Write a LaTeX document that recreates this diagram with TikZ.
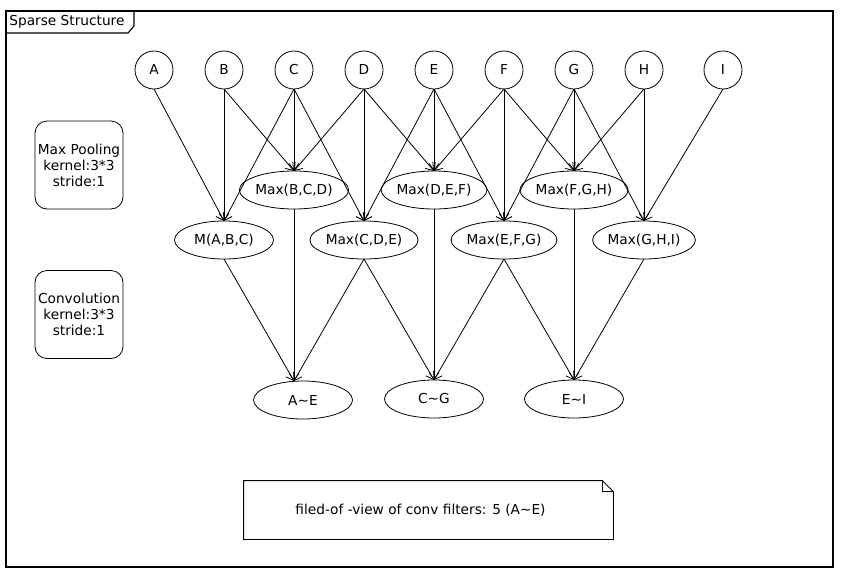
\documentclass[tikz,border=0pt]{standalone}
\usepackage{fontspec}
\setmainfont{DejaVu Sans}
\usetikzlibrary{arrows.meta, positioning, shapes.geometric}

\begin{document}
\begin{tikzpicture}[
    x=1pt, y=-1pt,
    node distance=32pt,
inp/.style = {draw, circle, minimum size=38pt, inner sep=0pt, outer sep=0pt},
mx/.style  = {draw, ellipse, minimum width=99pt, minimum height=38pt, inner sep=0pt, outer sep=0pt},
info/.style = {draw, rounded corners=12pt, minimum width=88pt, minimum height=88pt,
               inner sep=0pt, align=center},
arr/.style = {-{Straight Barb[length=7pt,width=10pt]}},
     line width=0.8pt,
     font = \fontsize{13.7}{16}\selectfont
                        ]
\useasboundingbox (0,0) rectangle (841,579);
% frame
\draw[line width=1.1pt] (6,11) rectangle (833,567);
\draw[line width=1.1pt] (6,33) -- (128,33) -- (134,26) -- (134,11);
\node (title) [anchor=west, inner sep=0pt] at (9,22) {Sparse Structure};
% inputs
\node (a) [inp] at (154,70) {A};
\node (b) [inp,right=of a] {B};
\node (c) [inp,right=of b] {C};
\node (d) [inp,right=of c] {D};
\node (e) [inp,right=of d] {E};
\node (f) [inp,right=of e] {F};
\node (g) [inp,right=of f] {G};
\node (h) [inp,right=of g] {H};
\node (i) [inp,right=41pt of h] {I};
% max pooling
\node (mbcd) [mx,below=82pt of c] {Max(B,C,D)};
\node (mdef) [mx,below=82pt of e] {Max(D,E,F)};
\node (mfgh) [mx,below=82pt of g] {Max(F,G,H)};
\node (mabc) [mx,below=132pt of b] {M(A,B,C)};
\node (mcde) [mx,below=132pt of d] {Max(C,D,E)};
\node (mefg) [mx,below=132pt of f] {Max(E,F,G)};
\node (mghi) [mx,below=132pt of h] {Max(G,H,I)};
% convolution
\node (ae) [mx] at (303,400) {A\textasciitilde E};
\node (cg) [mx,below=171pt of mdef] {C\textasciitilde G};
\node (ei) [mx,below=171pt of mfgh] {E\textasciitilde I};
% legend
\node (pool) [info] at (79,165) {Max Pooling\\kernel:3*3\\stride:1};
\node (conv) [info] at (79,314.5) {Convolution\\kernel:3*3\\stride:1};
%
\path[arr] (a.south) edge (mabc.north);
\path[arr] (b.south) edge (mabc.north) edge (mbcd.north);
\path[arr] (c.south) edge (mabc.north) edge (mbcd.north) edge (mcde.north);
\path[arr] (d.south) edge (mbcd.north) edge (mcde.north) edge (mdef.north);
\path[arr] (e.south) edge (mcde.north) edge (mdef.north) edge (mefg.north);
\path[arr] (f.south) edge (mdef.north) edge (mefg.north) edge (mfgh.north);
\path[arr] (g.south) edge (mefg.north) edge (mfgh.north) edge (mghi.north);
\path[arr] (h.south) edge (mfgh.north) edge (mghi.north);
\path[arr] (i.south) edge (mghi.north);
%
\path[arr] (mabc.south) edge ([xshift=-9pt] ae.north);
\path[arr] (mbcd.south) edge ([xshift=-9pt] ae.north);
\path[arr] (mcde.south) edge ([xshift=-9pt] ae.north) edge (cg.north);
\path[arr] (mdef.south) edge (cg.north);
\path[arr] (mefg.south) edge (cg.north) edge (ei.north);
\path[arr] (mfgh.south) edge (ei.north);
\path[arr] (mghi.south) edge (ei.north);
% note
\node (note) [minimum width=369pt, minimum height=58pt, inner sep=0pt] at (428.5,510) {};
\draw (note.north west) -- ([xshift=-11pt] note.north east)
      -- ([yshift=-11pt] note.north east) -- (note.south east)
      -- (note.south west) -- cycle;
\draw ([xshift=-11pt] note.north east) |- ([yshift=-11pt] note.north east);
\node (notetext) at ([xshift=-8pt] note.center) {filed-of -view of conv filters: 5 (A\textasciitilde E)};
\end{tikzpicture}
\end{document}
